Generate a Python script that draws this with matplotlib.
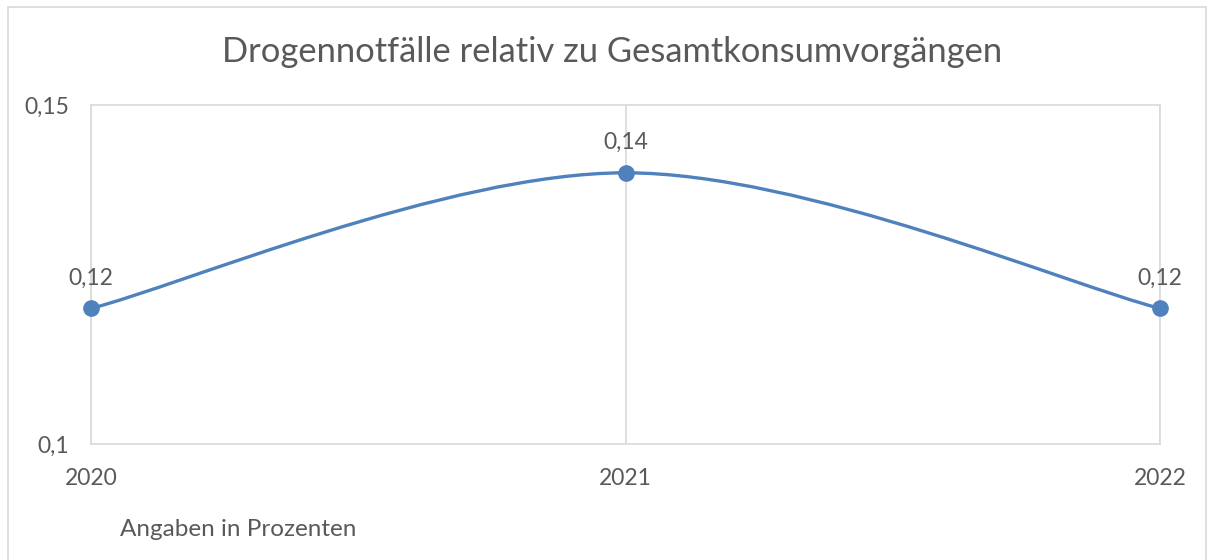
import matplotlib
matplotlib.use("Agg")
import matplotlib.pyplot as plt
import numpy as np
from matplotlib.path import Path
from matplotlib.patches import PathPatch, Rectangle

years = ["2020", "2021", "2022"]
values = [0.12, 0.14, 0.12]
value_labels = ["0,12", "0,14", "0,12"]
y_ticks = [0.1, 0.15]
y_tick_labels = ["0,1", "0,15"]
title = "Drogennotfälle relativ zu Gesamtkonsumvorgängen"
note = "Angaben in Prozenten"

plt.rcParams['font.family'] = ['Lato', 'DejaVu Sans']
TXT = "#595959"
LINE = "#4F81BD"
GRID = "#D9D9D9"
FS = 16.5

W, H = 1208, 560
fig = plt.figure(figsize=(W / 100, H / 100), dpi=100)
fig.patch.set_facecolor("white")

# outer chart border
fig.patches.append(Rectangle((8 / W, -0.05), (1206 - 8) / W, (H - 7) / H + 0.05,
                             transform=fig.transFigure, fill=False,
                             edgecolor=GRID, linewidth=1.2))

ax = fig.add_axes([91 / W, (H - 444) / H, (1160 - 91) / W, (444 - 105) / H])
x = np.arange(len(years))
ax.set_xlim(x[0], x[-1])
ax.set_ylim(y_ticks[0], y_ticks[-1])

for s in ["top", "right", "bottom", "left"]:
    ax.spines[s].set_color(GRID)
    ax.spines[s].set_linewidth(1.2)

for xi in x:
    ax.axvline(xi, color=GRID, linewidth=1.2, zorder=1)

# smoothed line (Catmull-Rom style Bezier, like Excel smoothing)
pts = np.column_stack([x, values]).astype(float)
verts = [tuple(pts[0])]
codes = [Path.MOVETO]
n = len(pts)
for i in range(n - 1):
    p0 = pts[max(i - 1, 0)]
    p1 = pts[i]
    p2 = pts[i + 1]
    p3 = pts[min(i + 2, n - 1)]
    c1 = p1 + (p2 - p0) / 6.0
    c2 = p2 - (p3 - p1) / 6.0
    verts += [tuple(c1), tuple(c2), tuple(p2)]
    codes += [Path.CURVE4] * 3
ax.add_patch(PathPatch(Path(verts, codes), fill=False, edgecolor=LINE,
                       linewidth=2.4, zorder=3, clip_on=False))
ax.plot(x, values, linestyle="none", marker="o", markersize=11,
        color=LINE, zorder=4, clip_on=False)

for xi, v, lab in zip(x, values, value_labels):
    ax.annotate(lab, (xi, v), xytext=(0, 22), textcoords="offset points",
                ha="center", va="center", fontsize=FS, color=TXT)

ax.set_xticks(x)
ax.set_xticklabels(years)
ax.set_yticks(y_ticks)
ax.set_yticklabels(y_tick_labels)
ax.tick_params(axis="both", length=0, labelsize=FS, labelcolor=TXT)
ax.tick_params(axis="x", pad=17)
ax.tick_params(axis="y", pad=16)

fig.text(612 / W, 1 - 52 / H, title, ha="center", va="center",
         fontsize=24.8, color=TXT)
fig.text(120 / W, 1 - 530 / H, note, ha="left", va="center",
         fontsize=17.5, color=TXT)

fig.savefig("out.png", dpi=100)
